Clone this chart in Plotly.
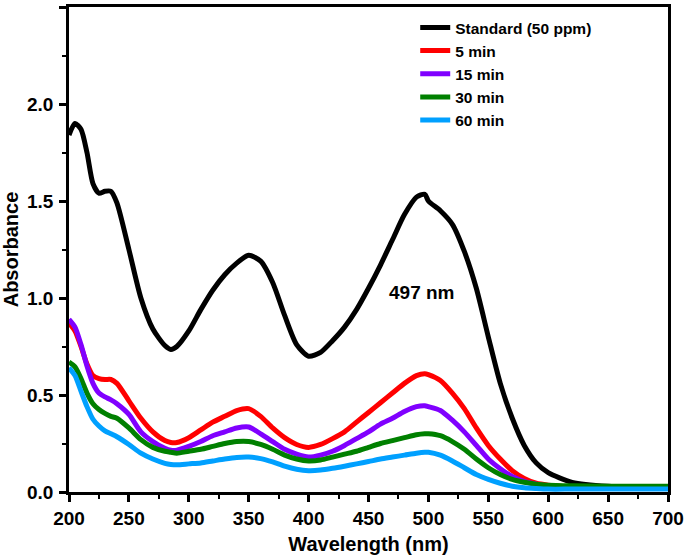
import plotly.graph_objects as go

wavelength = [200, 205, 210, 215, 220, 225, 230, 235, 240, 250, 260, 270, 280, 285, 290,
              300, 310, 320, 330, 340, 350, 360, 370, 380, 390, 400, 410, 420, 430, 440,
              450, 460, 470, 480, 490, 497, 500, 510, 520, 530, 540, 550, 560, 570, 580,
              590, 600, 620, 650, 700]

standard = [1.84, 1.90, 1.87, 1.75, 1.59, 1.54, 1.55, 1.55, 1.49, 1.25, 1.00, 0.84, 0.755, 0.735, 0.75,
            0.83, 0.94, 1.04, 1.12, 1.18, 1.22, 1.19, 1.08, 0.91, 0.76, 0.70, 0.72, 0.78, 0.85, 0.94,
            1.05, 1.17, 1.30, 1.43, 1.52, 1.535, 1.50, 1.45, 1.38, 1.24, 1.05, 0.80, 0.56, 0.38, 0.24,
            0.15, 0.10, 0.05, 0.03, 0.025]

min5 = [0.87, 0.83, 0.75, 0.66, 0.60, 0.585, 0.58, 0.58, 0.56, 0.47, 0.38, 0.31, 0.265, 0.255, 0.255,
        0.28, 0.32, 0.36, 0.39, 0.42, 0.43, 0.39, 0.33, 0.28, 0.245, 0.23, 0.245, 0.275, 0.31, 0.36,
        0.41, 0.46, 0.51, 0.56, 0.60, 0.61, 0.605, 0.575, 0.51, 0.43, 0.33, 0.24, 0.17, 0.11, 0.07,
        0.045, 0.035, 0.025, 0.022, 0.02]

min15 = [0.89, 0.85, 0.76, 0.65, 0.56, 0.51, 0.49, 0.475, 0.455, 0.40, 0.31, 0.26, 0.225, 0.215, 0.215,
         0.235, 0.26, 0.29, 0.31, 0.33, 0.335, 0.30, 0.26, 0.22, 0.195, 0.18, 0.19, 0.21, 0.24, 0.275,
         0.31, 0.35, 0.38, 0.415, 0.44, 0.445, 0.44, 0.42, 0.37, 0.31, 0.24, 0.17, 0.12, 0.08, 0.055,
         0.04, 0.03, 0.025, 0.022, 0.02]

min30 = [0.67, 0.645, 0.585, 0.51, 0.455, 0.425, 0.405, 0.39, 0.38, 0.33, 0.27, 0.23, 0.21, 0.205, 0.20,
         0.21, 0.22, 0.235, 0.25, 0.26, 0.26, 0.245, 0.22, 0.19, 0.17, 0.16, 0.165, 0.18, 0.195, 0.21,
         0.23, 0.25, 0.265, 0.28, 0.295, 0.30, 0.30, 0.29, 0.26, 0.22, 0.17, 0.125, 0.09, 0.065, 0.05,
         0.04, 0.035, 0.032, 0.03, 0.03]

min60 = [0.64, 0.60, 0.52, 0.44, 0.375, 0.34, 0.315, 0.30, 0.285, 0.245, 0.20, 0.17, 0.148, 0.142, 0.14,
         0.145, 0.15, 0.16, 0.17, 0.178, 0.18, 0.172, 0.155, 0.133, 0.117, 0.11, 0.113, 0.122, 0.133, 0.145,
         0.157, 0.17, 0.18, 0.19, 0.20, 0.205, 0.205, 0.19, 0.16, 0.125, 0.09, 0.065, 0.045, 0.03, 0.022,
         0.018, 0.015, 0.015, 0.015, 0.015]

series_names = ["Standard (50 ppm)", "5 min", "15 min", "30 min", "60 min"]
series_values = [standard, min5, min15, min30, min60]
series_colors = ["#000000", "#ff0000", "#8000ff", "#008000", "#00a0ff"]

x_ticks = [200, 250, 300, 350, 400, 450, 500, 550, 600, 650, 700]
y_ticks = [0.0, 0.5, 1.0, 1.5, 2.0, 2.5]

FONT = "Liberation Sans, Arial, sans-serif"

fig = go.Figure()
for i, (name, vals, col) in enumerate(zip(series_names, series_values, series_colors)):
    fig.add_trace(go.Scatter(
        x=wavelength, y=vals, mode="lines", name=name,
        line=dict(color=col, width=5, shape="spline", smoothing=0.7),
        legendgroup=f"g{i}",
    ))

fig.add_annotation(x=494, y=1.03, text="<b>497 nm</b>", showarrow=False,
                   font=dict(family=FONT, size=19, color="black"))

axis_common = dict(
    showline=True, linewidth=2.5, linecolor="black", mirror=True,
    ticks="outside", ticklen=7, tickwidth=2.5, tickcolor="black",
    showgrid=False, zeroline=False, automargin=False,
    tickfont=dict(family=FONT, size=19, color="black", weight="bold"),
)

fig.update_xaxes(
    range=[200, 700], tickvals=x_ticks, ticktext=[f"{v}" for v in x_ticks],
    minor=dict(ticks="outside", ticklen=4, tickwidth=2, tickcolor="black", dtick=25, tick0=200),
    title=dict(text="<b>Wavelength (nm)</b>", font=dict(family=FONT, size=20, color="black"), standoff=10),
    **axis_common,
)
fig.update_yaxes(
    range=[0, 2.5], tickvals=y_ticks, ticktext=[f"{v:.1f}" for v in y_ticks],
    minor=dict(ticks="outside", ticklen=4, tickwidth=2, tickcolor="black", dtick=0.25, tick0=0),
    title=dict(text="<b>Absorbance</b>", font=dict(family=FONT, size=20, color="black"), standoff=4),
    ticklabelstandoff=2,
    **axis_common,
)

fig.update_layout(
    width=685, height=557,
    margin=dict(l=69, r=17, t=7, b=65),
    paper_bgcolor="white", plot_bgcolor="white",
    showlegend=True,
    legend=dict(
        x=0.578, y=0.992, xanchor="left", yanchor="top",
        bgcolor="rgba(0,0,0,0)", borderwidth=0,
        font=dict(family=FONT, size=15.5, color="black", weight="bold"),
        traceorder="grouped", tracegroupgap=0,
    ),
)

fig.write_html(
    "out.html",
    config={"displayModeBar": False},
    post_script="document.body.style.margin='0';document.body.style.overflow='hidden';",
)
